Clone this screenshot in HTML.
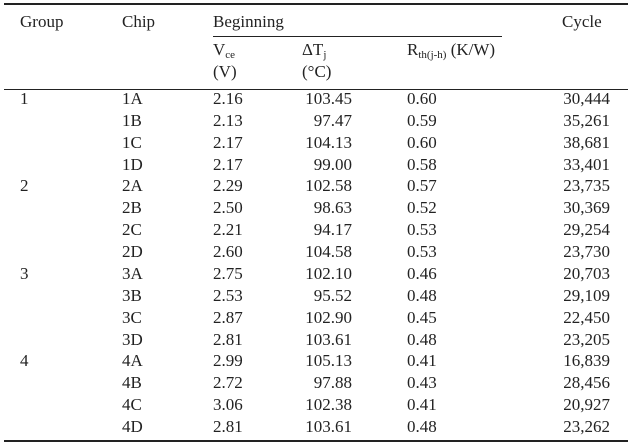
<!DOCTYPE html>
<html><head><meta charset="utf-8"><style>
body{margin:0;width:631px;height:447px;background:#fff;position:relative;font-family:"Liberation Serif",serif;font-size:17px;color:#222;overflow:hidden}
.t{position:absolute;white-space:nowrap;line-height:20px}
.r{text-align:right}
.l{position:absolute;background:#222}
sub{font-size:11px;vertical-align:-3px;line-height:0}
</style></head><body>
<div class="l" style="left:4px;top:3px;width:624px;height:1.5px"></div>
<div class="l" style="left:213px;top:35.5px;width:289px;height:1px"></div>
<div class="l" style="left:4px;top:88.5px;width:624px;height:1.5px"></div>
<div class="l" style="left:4px;top:440px;width:624px;height:1.5px"></div>
<div class="t" style="left:20px;top:12px">Group</div>
<div class="t" style="left:122px;top:12px">Chip</div>
<div class="t" style="left:213px;top:12px">Beginning</div>
<div class="t" style="left:562px;top:12px">Cycle</div>
<div class="t" style="left:213px;top:40px">V<sub>ce</sub></div>
<div class="t" style="left:213px;top:62px">(V)</div>
<div class="t" style="left:302px;top:40px">ΔT<sub>j</sub></div>
<div class="t" style="left:302px;top:62px">(°C)</div>
<div class="t" style="left:407px;top:40px">R<sub>th(j-h)</sub> (K/W)</div>
<div id="rows"></div>
<script>
var d=[["1","1A","2.16","103.45","0.60","30,444"],["","1B","2.13","97.47","0.59","35,261"],["","1C","2.17","104.13","0.60","38,681"],["","1D","2.17","99.00","0.58","33,401"],["2","2A","2.29","102.58","0.57","23,735"],["","2B","2.50","98.63","0.52","30,369"],["","2C","2.21","94.17","0.53","29,254"],["","2D","2.60","104.58","0.53","23,730"],["3","3A","2.75","102.10","0.46","20,703"],["","3B","2.53","95.52","0.48","29,109"],["","3C","2.87","102.90","0.45","22,450"],["","3D","2.81","103.61","0.48","23,205"],["4","4A","2.99","105.13","0.41","16,839"],["","4B","2.72","97.88","0.43","28,456"],["","4C","3.06","102.38","0.41","20,927"],["","4D","2.81","103.61","0.48","23,262"]];
var h="";
d.forEach(function(r,i){var y=89+i*21.87;
h+='<div class="t" style="left:20px;top:'+y+'px">'+r[0]+'</div>';
h+='<div class="t" style="left:122px;top:'+y+'px">'+r[1]+'</div>';
h+='<div class="t" style="left:213px;top:'+y+'px">'+r[2]+'</div>';
h+='<div class="t r" style="right:279px;top:'+y+'px">'+r[3]+'</div>';
h+='<div class="t" style="left:407px;top:'+y+'px">'+r[4]+'</div>';
h+='<div class="t r" style="right:21px;top:'+y+'px">'+r[5]+'</div>';});
document.getElementById("rows").innerHTML=h;
</script>
</body></html>
